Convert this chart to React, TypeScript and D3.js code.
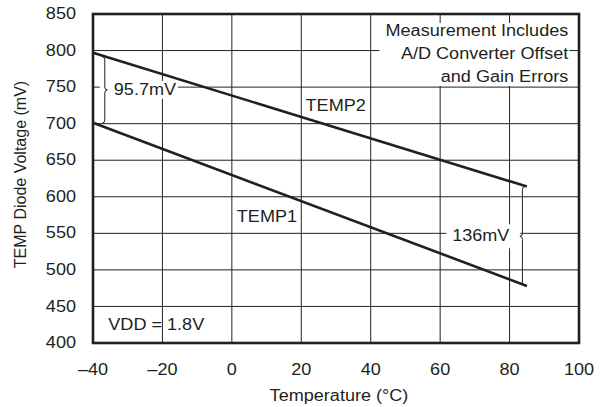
import { useEffect, useRef } from "react";
import * as d3 from "d3";

// data
const temps = [-40, 85];
const temp1 = [701.3, 478];
const temp2 = [797, 614];
const xTicks = [-40, -20, 0, 20, 40, 60, 80, 100];
const yTicks = [400, 450, 500, 550, 600, 650, 700, 750, 800, 850];
const noteLines = ["Measurement Includes", "A/D Converter Offset", "and Gain Errors"];

const W = 603;
const H = 407;
const FONT = "'Liberation Sans', Arial, Helvetica, sans-serif";
const INK = "#231f20";
const FS = 16;
const SX = 1.13; // the reference type is a little wide

export default function App() {
  const ref = useRef<SVGSVGElement>(null);

  useEffect(() => {
    if (!ref.current) return;
    const svg = d3.select(ref.current);
    svg.selectAll("*").remove();

    const m = { top: 14, right: 24, bottom: 64, left: 93 };
    const w = W - m.left - m.right;
    const h = H - m.top - m.bottom;

    const x = d3.scaleLinear().domain([-40, 100]).range([0, w]);
    const y = d3.scaleLinear().domain([400, 850]).range([h, 0]);

    const g = svg.append("g").attr("transform", `translate(${m.left},${m.top})`);

    const label = (
      px: number,
      py: number,
      t: string,
      anchor: "start" | "middle" | "end" = "start",
    ) =>
      g
        .append("text")
        .attr("transform", `translate(${px},${py}) scale(${SX},1)`)
        .attr("text-anchor", anchor)
        .attr("dominant-baseline", "central")
        .attr("font-size", FS)
        .attr("font-family", FONT)
        .attr("fill", INK)
        .text(t);

    // grid
    g.append("g")
      .selectAll("line")
      .data(xTicks.slice(1, -1))
      .join("line")
      .attr("x1", (d) => x(d))
      .attr("x2", (d) => x(d))
      .attr("y1", 0)
      .attr("y2", h)
      .attr("stroke", "#222")
      .attr("stroke-width", 1);
    g.append("g")
      .selectAll("line")
      .data(yTicks.slice(1, -1))
      .join("line")
      .attr("x1", 0)
      .attr("x2", w)
      .attr("y1", (d) => y(d))
      .attr("y2", (d) => y(d))
      .attr("stroke", "#222")
      .attr("stroke-width", 1);

    // note box (white background hides grid)
    const nx = x(42.5);
    const nr = x(97.2);
    g.append("rect")
      .attr("x", nx)
      .attr("y", 9)
      .attr("width", nr - nx)
      .attr("height", 63)
      .attr("fill", "#fff");
    noteLines.forEach((t, i) => {
      label(nr - 1, 17 + i * 23, t, "end");
    });

    // lines
    const line = d3
      .line<number>()
      .x((_, i) => x(temps[i]))
      .y((d) => y(d));
    [temp1, temp2].forEach((s) => {
      g.append("path")
        .datum(s)
        .attr("d", line)
        .attr("fill", "none")
        .attr("stroke", INK)
        .attr("stroke-width", 2.6);
    });

    // braces
    const brace = (bx: number, y1: number, y2: number, dir: number) => {
      const d = 2.5 * dir;
      const ym = (y1 + y2) / 2;
      return `M${bx - d},${y1} Q${bx},${y1} ${bx},${y1 + 3} L${bx},${ym - 3} Q${bx},${ym} ${bx + d},${ym} Q${bx},${ym} ${bx},${ym + 3} L${bx},${y2 - 3} Q${bx},${y2} ${bx - d},${y2}`;
    };
    const at = (s: number[], t: number) =>
      s[0] + ((s[1] - s[0]) * (t - temps[0])) / (temps[1] - temps[0]);

    // left brace: 95.7mV
    const lbx = x(-36.6);
    const ly1 = y(at(temp2, -39)) + 3;
    const ly2 = y(at(temp1, -39)) - 1;
    const lym = (ly1 + ly2) / 2;
    g.append("rect")
      .attr("x", lbx - 5)
      .attr("y", lym - 9)
      .attr("width", x(-15.5) - lbx + 5)
      .attr("height", 18)
      .attr("fill", "#fff");
    g.append("path")
      .attr("d", brace(lbx, ly1, ly2, 1))
      .attr("fill", "none")
      .attr("stroke", INK)
      .attr("stroke-width", 1);
    label(lbx + 9, lym, "95.7mV");

    // right brace: 136mV
    const rbx = x(83.7);
    const ry1 = y(temp2[1]);
    const ry2 = y(temp1[1]);
    const rym = (ry1 + ry2) / 2;
    g.append("rect")
      .attr("x", x(61.8))
      .attr("y", rym - 12)
      .attr("width", rbx - x(61.8) - 2)
      .attr("height", 24)
      .attr("fill", "#fff");
    g.append("path")
      .attr("d", brace(rbx, ry1, ry2, -1))
      .attr("fill", "none")
      .attr("stroke", INK)
      .attr("stroke-width", 1);
    label(rbx - 13, rym, "136mV", "end");

    // series labels
    label(x(29.9), y(724), "TEMP2", "middle");
    label(x(10.1), y(573), "TEMP1", "middle");
    label(x(-35.6), y(424.5), "VDD = 1.8V");

    // frame
    g.append("rect")
      .attr("width", w)
      .attr("height", h)
      .attr("fill", "none")
      .attr("stroke", INK)
      .attr("stroke-width", 2.6);

    // tick labels
    xTicks.forEach((d) => {
      label(x(d), h + 27, d < 0 ? `\u2013${-d}` : `${d}`, "middle");
    });
    yTicks.forEach((d) => {
      label(-17, y(d), `${d}`, "end");
    });

    // axis titles
    label(w / 2 + 3, h + 53, "Temperature (\u00B0C)", "middle");
    g.append("text")
      .attr("transform", `translate(-73,${h / 2 - 4}) rotate(-90)`)
      .attr("text-anchor", "middle")
      .attr("dominant-baseline", "central")
      .attr("font-size", FS)
      .attr("font-family", FONT)
      .attr("fill", INK)
      .text("TEMP Diode Voltage (mV)");
  }, []);

  return (
    <svg
      ref={ref}
      width={W}
      height={H}
      style={{ position: "absolute", left: 0, top: 0, background: "#fff" }}
    />
  );
}
